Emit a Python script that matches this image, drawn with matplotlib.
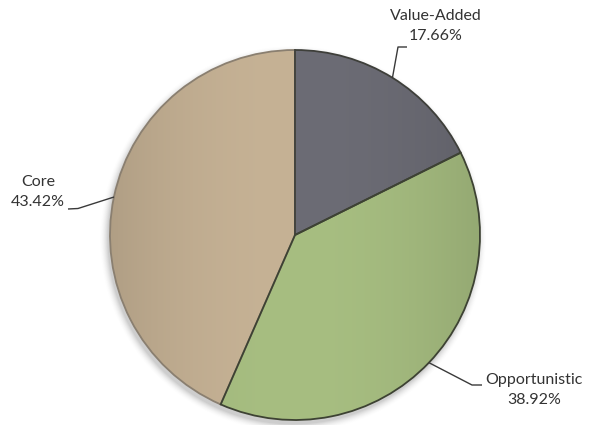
import numpy as np
import matplotlib
matplotlib.use("Agg")
import matplotlib.pyplot as plt
from matplotlib.colors import to_rgb

# Portfolio mix by strategy
labels = ["Value-Added", "Opportunistic", "Core"]
shares = [17.66, 38.92, 43.42]
colors = ["#6c6c75", "#a7be81", "#c6b295"]
edge_colors = ["#3e3f3a", "#3d4233", "#8a7f70"]

# label placement (pixel coords, y down) and leader elbow / end points
label_pos = [(436, 26), (534, 390), (38, 192)]
leader_elbow = [(398, 47), (472, 385), (78, 208.5)]
leader_end = [(407, 47), (482, 385), (68, 209)]

W, H = 592, 425
cx, cy, r = 295, H - 235, 185

plt.rcParams["font.family"] = ["Lato", "DejaVu Sans"]

fig = plt.figure(figsize=(W / 100, H / 100), dpi=100)
ax = fig.add_axes([0, 0, 1, 1])
ax.set_xlim(0, W)
ax.set_ylim(0, H)
ax.set_aspect("equal")
ax.axis("off")

# soft drop shadow under the pie
gx, gy = np.meshgrid(np.arange(W) + 0.5, np.arange(H) + 0.5)
d = np.hypot(gx - (cx - 2), gy - (cy - 4)) - r
alpha = np.clip(1 - d / 9, 0, 1) ** 2 * 0.3
shadow = np.zeros((H, W, 4))
shadow[..., :3] = 0.35
shadow[..., 3] = alpha
ax.imshow(shadow, extent=(0, W, 0, H), origin="lower", zorder=1)

wedges, _ = ax.pie(shares, colors=colors, startangle=90, counterclock=False,
                   center=(cx, cy), radius=r, frame=True,
                   wedgeprops=dict(linewidth=1.3))
ax.set_xlim(0, W)
ax.set_ylim(0, H)
ax.axis("off")

# horizontal cylinder-like shading inside every wedge
xs = np.linspace(-1, 1, 400)
shade = 1 - 0.11 * xs ** 2
for i, w in enumerate(wedges):
    base = np.array(to_rgb(colors[i]))
    img = np.clip(base[None, None, :] * shade[None, :, None], 0, 1)
    img = np.repeat(img, 2, axis=0)
    im = ax.imshow(img, extent=(cx - r, cx + r, cy - r, cy + r),
                   origin="lower", interpolation="bilinear", zorder=2)
    im.set_clip_path(w)
    w.set_facecolor("none")
    w.set_edgecolor(edge_colors[i])
    w.set_zorder(4 if i < 2 else 3)

# data labels with leader lines from the middle of each arc
for i, w in enumerate(wedges):
    ang = np.deg2rad((w.theta1 + w.theta2) / 2)
    sx, sy = cx + r * np.cos(ang), cy + r * np.sin(ang)
    ex, ey = leader_elbow[i]
    fx, fy = leader_end[i]
    ax.plot([sx, ex, fx], [sy, H - ey, H - fy], color="#3a3a3a", lw=1,
            zorder=5, solid_capstyle="butt")
    lx, ly = label_pos[i]
    ax.text(lx, H - ly, f"{labels[i]}\n{shares[i]:.2f}%", ha="center",
            va="center", fontsize=11.5, color="#333333", linespacing=1.55,
            zorder=6)

fig.savefig("out.png", dpi=100)
